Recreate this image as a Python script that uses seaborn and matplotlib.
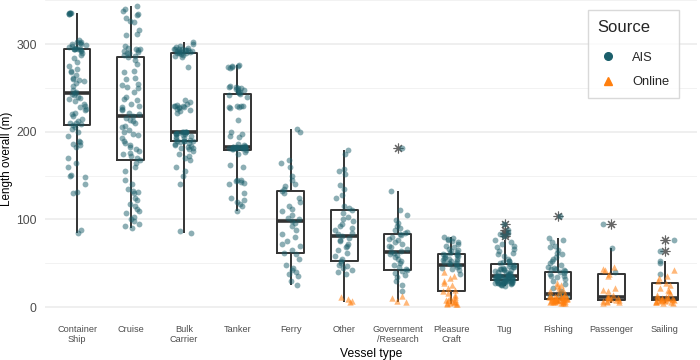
import numpy as np
import pandas as pd
import matplotlib
matplotlib.use("Agg")
import matplotlib.pyplot as plt
from matplotlib.lines import Line2D
from matplotlib.ticker import FixedLocator
import seaborn as sns

categories = ["Container\nShip", "Cruise", "Bulk\nCarrier", "Tanker", "Ferry", "Other",
              "Government\n/Research", "Pleasure\nCraft", "Tug", "Fishing", "Passenger", "Sailing"]

ais = {
    "Container\nShip": [85, 88, 130, 131, 140, 148, 150, 151, 160, 165, 170, 183, 185, 186, 188, 190, 195, 200, 203, 206,
                        208, 209, 210, 210, 212, 215, 218, 220, 222, 225, 226, 228, 230, 232, 235, 237, 239, 240, 242, 243,
                        244, 245, 248, 252, 256, 258, 259, 260, 262, 265, 268, 270, 272, 275, 280, 284, 288, 290, 292, 293,
                        294, 294, 294, 295, 295, 296, 297, 298, 299, 300, 300, 301, 302, 303, 305, 335, 335, 336, 336, 336, 336],
    "Cruise": [90, 92, 95, 98, 100, 103, 107, 110, 112, 115, 118, 122, 125, 130, 131, 132, 135, 140, 145, 155, 160, 165,
               168, 170, 172, 175, 176, 178, 180, 183, 185, 187, 190, 193, 196, 198, 200, 202, 205, 207, 210, 212, 214, 216,
               218, 220, 222, 225, 226, 228, 230, 232, 236, 238, 240, 245, 250, 251, 253, 255, 260, 262, 268, 270, 278, 282,
               286, 287, 288, 290, 290, 291, 292, 293, 294, 295, 296, 298, 310, 312, 316, 325, 327, 330, 333, 335, 338, 340, 344],
    "Bulk\nCarrier": [85, 87, 140, 150, 155, 160, 168, 170, 172, 175, 178, 180, 181, 182, 183, 184, 185, 186, 187, 188,
                      189, 189, 190, 190, 191, 192, 193, 194, 195, 196, 197, 198, 198, 199, 199, 200, 200, 200, 200, 200,
                      200, 222, 224, 225, 226, 227, 228, 228, 229, 230, 230, 231, 232, 234, 236, 274, 286, 287, 288, 289,
                      290, 290, 290, 291, 291, 291, 292, 292, 292, 293, 293, 293, 294, 294, 295, 295, 296, 297, 298, 300, 302],
    "Tanker": [110, 115, 118, 120, 122, 125, 130, 140, 142, 143, 144, 145, 145, 160, 162, 175, 177,
               179, 180, 180, 181, 181, 181, 182, 182, 182, 182, 183, 183, 183, 183, 183, 183, 183,
               183, 184, 185, 186, 194, 195, 198, 200, 213, 227, 228, 228, 229, 230, 230, 240, 242,
               243, 244, 245, 246, 248, 248, 249, 250, 250, 251, 251, 252, 273, 274, 274, 275, 275, 276],
    "Ferry": [25, 30, 35, 38, 40, 42, 45, 48, 55, 60, 62, 65, 70, 72, 75, 80, 83, 88, 92, 96, 98,
              100, 102, 105, 110, 112, 115, 120, 125, 130, 133, 135, 138, 140, 145, 150, 160, 165, 168, 200, 203],
    "Other": [38, 40, 42, 45, 47, 48, 50, 53, 55, 58, 62, 65, 68, 70, 72, 75, 77, 79, 81,
              83, 85, 88, 90, 93, 95, 98, 100, 103, 107, 111, 113, 115, 125, 128, 135, 139, 152, 155, 158, 175, 179],
    "Government\n/Research": [18, 25, 30, 34, 37, 39, 41, 42, 44, 46, 48, 50, 52, 55, 57, 59, 60, 62, 63,
                              64, 66, 68, 70, 72, 74, 76, 78, 80, 82, 83, 85, 86, 88, 90, 93, 96, 99, 105, 111, 133, 182],
    "Pleasure\nCraft": [38, 42, 44, 45, 46, 47, 48, 49, 50, 50, 51, 52, 53, 54, 55, 55, 56, 57, 58, 59, 59, 60,
                        61, 62, 63, 64, 65, 66, 68, 70, 72, 74, 75, 76, 78, 79, 80],
    "Tug": [24, 25, 25, 26, 26, 27, 27, 27, 28, 28, 28, 28, 29, 29, 29, 29, 30, 30, 30, 30, 30.5,
            31, 31, 31, 32, 32, 32, 33, 33, 33, 33, 34, 34, 34, 34, 35, 35, 35, 35, 35, 36,
            36, 37, 37, 38, 38, 39, 40, 40, 41, 42, 42, 43, 44, 44, 45, 46, 46, 47, 48, 49,
            50, 51, 52, 53, 55, 58, 60, 62, 64, 66, 68, 70, 72, 74, 76, 81, 83, 85, 88, 95],
    "Fishing": [10, 12, 13, 14, 16, 18, 22, 26, 30, 32, 34, 35, 36, 38, 39, 40,
                41, 42, 43, 44, 45, 46, 48, 50, 52, 55, 57, 60, 62, 65, 68, 70, 74, 77, 79, 104],
    "Passenger": [40, 67, 95],
    "Sailing": [38, 50, 53, 64, 76],
}

online = {
    "Other": [6, 7, 9, 12],
    "Government\n/Research": [6, 7, 10, 13],
    "Pleasure\nCraft": [3, 4, 4, 5, 5, 6, 6, 7, 8, 8, 9, 10, 12, 14, 16, 18,
                        20, 22, 25, 28, 30, 33, 36, 40],
    "Fishing": [5, 5, 5, 6, 6, 6, 6, 7, 7, 7, 7, 7, 8, 8, 8, 8, 8, 8, 9, 9, 9,
                9, 10, 10, 10, 10, 11, 11, 11, 12, 12, 12, 12, 13, 13, 13,
                15, 17, 18, 20, 22, 24, 25, 28],
    "Passenger": [5, 6, 6, 7, 7, 8, 8.5, 9, 10, 10, 11, 11, 11.5, 14, 18, 20, 22, 35, 38, 42, 44, 46],
    "Sailing": [5, 5, 6, 6, 6, 7, 7, 7, 8, 8, 8, 8, 9, 9, 9, 10, 10, 10, 10.5,
                11, 12, 14, 16, 18, 20, 22, 25, 28, 30, 33, 35, 42],
}

rows = []
for c, vals in ais.items():
    rows += [(c, "AIS", v) for v in vals]
for c, vals in online.items():
    rows += [(c, "Online", v) for v in vals]
df = pd.DataFrame(rows, columns=["type", "source", "length"])

teal = "#1B5F6B"
orange = "#FF7F0E"
boxcol = "#333333"

sns.set_theme(style="white")
plt.rcParams["font.family"] = ["Liberation Sans", "DejaVu Sans"]

fig = plt.figure(figsize=(7, 3.6), dpi=100)
ax = fig.add_axes([45 / 700, 42 / 360, 652 / 700, 318 / 360])

sns.boxplot(data=df, x="type", y="length", order=categories, width=0.5, fill=False,
            color=boxcol, linecolor=boxcol, linewidth=1.4, showcaps=False, whis=1.5,
            boxprops=dict(color=boxcol), whiskerprops=dict(color=boxcol),
            medianprops=dict(linewidth=2.6, color=boxcol),
            flierprops=dict(marker=(8, 2, 0), markersize=7, markeredgecolor="#555555",
                            markeredgewidth=0.8, alpha=0.9),
            ax=ax, zorder=2)

np.random.seed(3)
sns.stripplot(data=df[df.source == "AIS"], x="type", y="length", order=categories,
              color=teal, marker="o", size=4.2, alpha=0.5, jitter=0.18, linewidth=0,
              ax=ax, zorder=3, legend=False)
sns.stripplot(data=df[df.source == "Online"], x="type", y="length", order=categories,
              color=orange, marker="^", size=4.6, alpha=0.55, jitter=0.18, linewidth=0,
              ax=ax, zorder=3, legend=False)

ax.set_xlim(-0.6, 11.6)
ax.set_ylim(-12.5, 350.5)
ax.yaxis.set_major_locator(FixedLocator([0, 100, 200, 300]))
ax.yaxis.set_minor_locator(FixedLocator([50, 150, 250, 350]))
ax.grid(False)
ax.yaxis.grid(True, which="major", color="#EBEBEB", linewidth=1.1, zorder=0)
ax.yaxis.grid(True, which="minor", color="#F2F2F2", linewidth=0.7, zorder=0)
ax.set_axisbelow(True)
for s in ax.spines.values():
    s.set_visible(False)
ax.tick_params(axis="both", which="both", length=0)
ax.tick_params(axis="y", labelsize=8.8, labelcolor="#4D4D4D", pad=6)
ax.tick_params(axis="x", labelsize=6.6, labelcolor="#4D4D4D", pad=5)
for lab in ax.get_xticklabels():
    lab.set_linespacing(1.1)

ax.set_xlabel("Vessel type", fontsize=8.7, color="black", labelpad=3)
ax.set_ylabel("Length overall (m)", fontsize=8.4, color="black")
ax.yaxis.set_label_coords(-0.049, 0.5)

handles = [Line2D([], [], marker="o", linestyle="none", color=teal, markersize=5.5),
           Line2D([], [], marker="^", linestyle="none", color=orange, markersize=6)]
leg = ax.legend(handles, ["AIS", "Online"], title="Source", loc="upper right",
                bbox_to_anchor=(0.972, 0.969), borderaxespad=0, frameon=True, fancybox=False,
                fontsize=9.3, title_fontsize=12, labelspacing=0.94, handlelength=1.6,
                handletextpad=1.05, borderpad=0.75)
leg._legend_box.align = "left"
leg._legend_box.sep = 12.5
leg.get_frame().set_edgecolor("#D0D0D0")
leg.get_frame().set_linewidth(1.0)

fig.savefig("out.png", dpi=100)
